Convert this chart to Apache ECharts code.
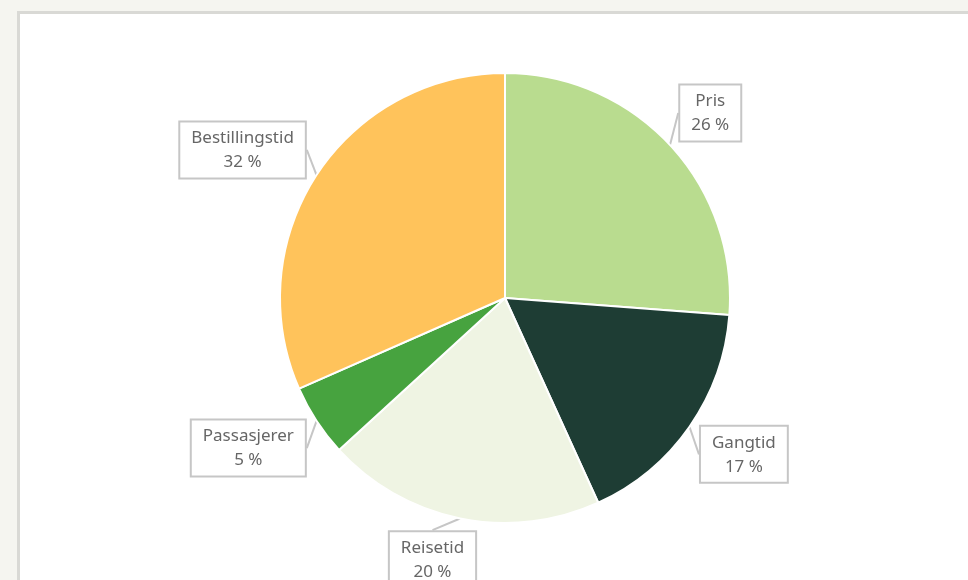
<!DOCTYPE html>
<html>
<head>
<meta charset="utf-8">
<script src="https://cdn.jsdelivr.net/npm/echarts@6/dist/echarts.min.js"></script>
<style>
  html, body { margin: 0; padding: 0; background: #f5f5f0; }
  #chart { width: 968px; height: 580px; }
</style>
</head>
<body>
<div id="chart"></div>
<script>
// kategorier og andeler (prosent)
var categories = ['Pris', 'Gangtid', 'Reisetid', 'Passasjerer', 'Bestillingstid'];
var shares = [26.2, 17.0, 20.0, 5.2, 31.6];
var colors = ['#b9dc8f', '#1e3d34', '#eff4e3', '#47a33f', '#ffc35b'];

var pieData = [];
for (var i = 0; i < categories.length; i++) {
  pieData.push({ name: categories[i], value: shares[i], itemStyle: { color: colors[i] } });
}

var cx = 505, cy = 298;
var myChart = echarts.init(document.getElementById('chart'));

var option = {
  backgroundColor: '#f5f5f0',
  animation: false,
  graphic: [
    {
      type: 'rect',
      left: 17,
      top: 11,
      shape: { width: 1000, height: 620 },
      style: { fill: '#ffffff', stroke: '#d9d9d5', lineWidth: 3 },
      z: -10
    }
  ],
  series: [
    {
      type: 'pie',
      center: [cx, cy],
      radius: 225,
      startAngle: 90,
      clockwise: true,
      avoidLabelOverlap: false,
      emphasis: { disabled: true },
      itemStyle: { borderColor: '#ffffff', borderWidth: 2 },
      label: {
        show: true,
        position: 'outside',
        formatter: function (p) {
          return '{t|' + p.name + '}\n{t|' + Math.round(p.percent) + ' %}';
        },
        rich: {
          t: {
            fontFamily: 'Noto Sans',
            fontSize: 17,
            lineHeight: 24,
            color: '#666666',
            align: 'center'
          }
        },
        backgroundColor: '#ffffff',
        borderColor: '#c6c6c6',
        borderWidth: 2,
        padding: [4, 11, 3, 11]
      },
      labelLine: {
        show: true,
        length: 14,
        length2: 0,
        lineStyle: { color: '#c6c6c6', width: 2 }
      },
      // boksen festes med et hjørne mot enden av linjen
      labelLayout: function (params) {
        var pts = params.labelLinePoints;
        if (!pts) return {};
        var e = pts[1];
        var right = e[0] > cx;
        var below = e[1] > cy;
        var nearBottom = below && Math.abs(e[0] - cx) < 80;
        var dx = 0, dy = 0;
        if (nearBottom) dx = params.labelRect.width * 0.2;
        else if (below) dy = -8;
        if (!below) dy = right ? 5 : 10;
        return {
          x: e[0] + dx,
          y: e[1] + dy,
          align: right ? 'left' : 'right',
          verticalAlign: below ? 'top' : 'bottom'
        };
      },
      data: pieData
    }
  ]
};

myChart.setOption(option);
</script>
</body>
</html>
